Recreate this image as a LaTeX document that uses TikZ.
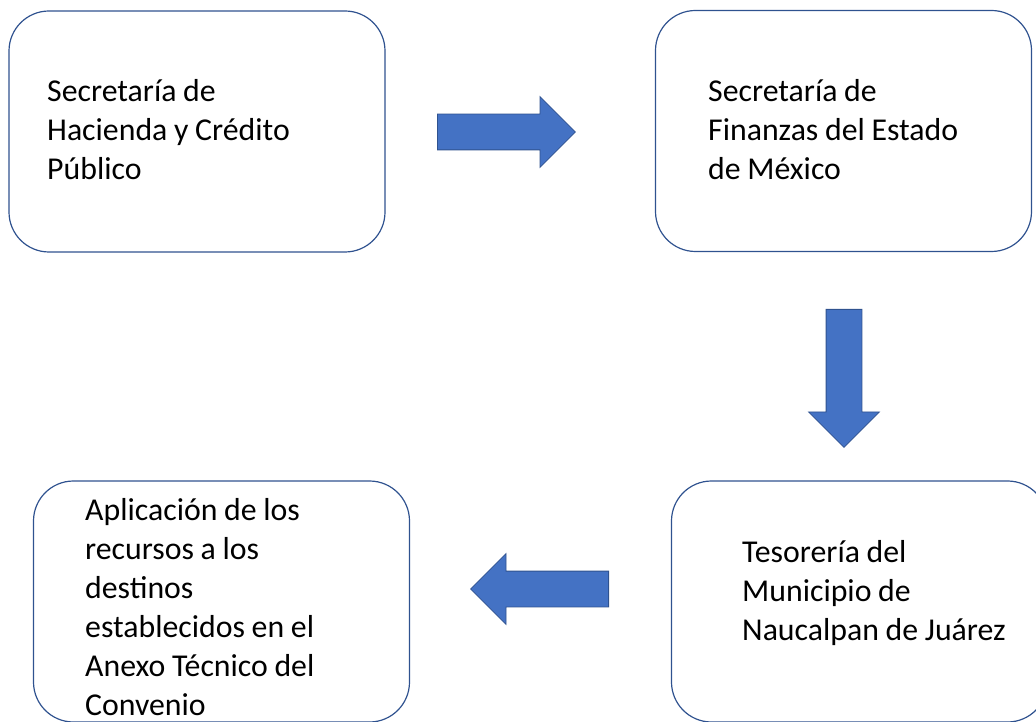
\documentclass[tikz,border=0pt]{standalone}
\usepackage{fontspec}
\setmainfont{Carlito}
\usetikzlibrary{shapes.arrows}

\definecolor{azul}{HTML}{4472C4}
\definecolor{azuloscuro}{HTML}{2F528F}

\newcommand\espacio{\spaceskip=0.21em\relax\xspaceskip=0.21em\relax}

\tikzset{
    caja/.style={draw=azuloscuro, line width=1.2pt, rounded corners=40pt,
        minimum width=376pt, minimum height=241pt, inner sep=0pt},
    texto/.style={anchor=base west, inner sep=0pt, text width=340pt, align=left,
        font=\fontsize{31.8}{39}\selectfont, execute at begin node=\espacio},
    flecha/.style={single arrow, fill=azul, draw=azuloscuro, line width=0.8pt,
        inner sep=17.5pt, single arrow head extend=17.5pt, minimum height=138pt,
        anchor=tail}
}

\begin{document}
\begin{tikzpicture}[x=1pt, y=1pt]
        \useasboundingbox ( 0, 0 ) rectangle ( 1036, 721 );

        % cajas
        \node [caja] (hacienda) at ( 197, 589.5 ) {};
        \node [caja] (finanzas) at ( 843.5, 590 ) {};
        \node [caja] (tesoreria) at ( 859.5, 119.5 ) {};
        \node [caja] (aplicacion) at ( 221.5, 119.5 ) {};

        % textos
        \node [texto] (texto hacienda) at ( 47, 619 ) {Secretaría de\\Hacienda y Crédito\\Público};
        \node [texto] (texto finanzas) at ( 708, 619 ) {Secretaría de\\Finanzas del Estado\\de México};
        \node [texto] (texto tesoreria) at ( 742, 159 ) {Tesorería del\\Municipio de\\Naucalpan de Juárez};
        \node [texto] (texto aplicacion) at ( 85, 201 ) {Aplicación de los\\recursos a los\\destinos\\establecidos en el\\Anexo Técnico del\\Convenio};

        % flechas
        \node [flecha] (flecha derecha) at ( 437, 589 ) {};
        \node [flecha, shape border rotate=270] (flecha abajo) at ( 844, 412 ) {};
        \node [flecha, shape border rotate=180] (flecha izquierda) at ( 609, 132 ) {};
\end{tikzpicture}
\end{document}
